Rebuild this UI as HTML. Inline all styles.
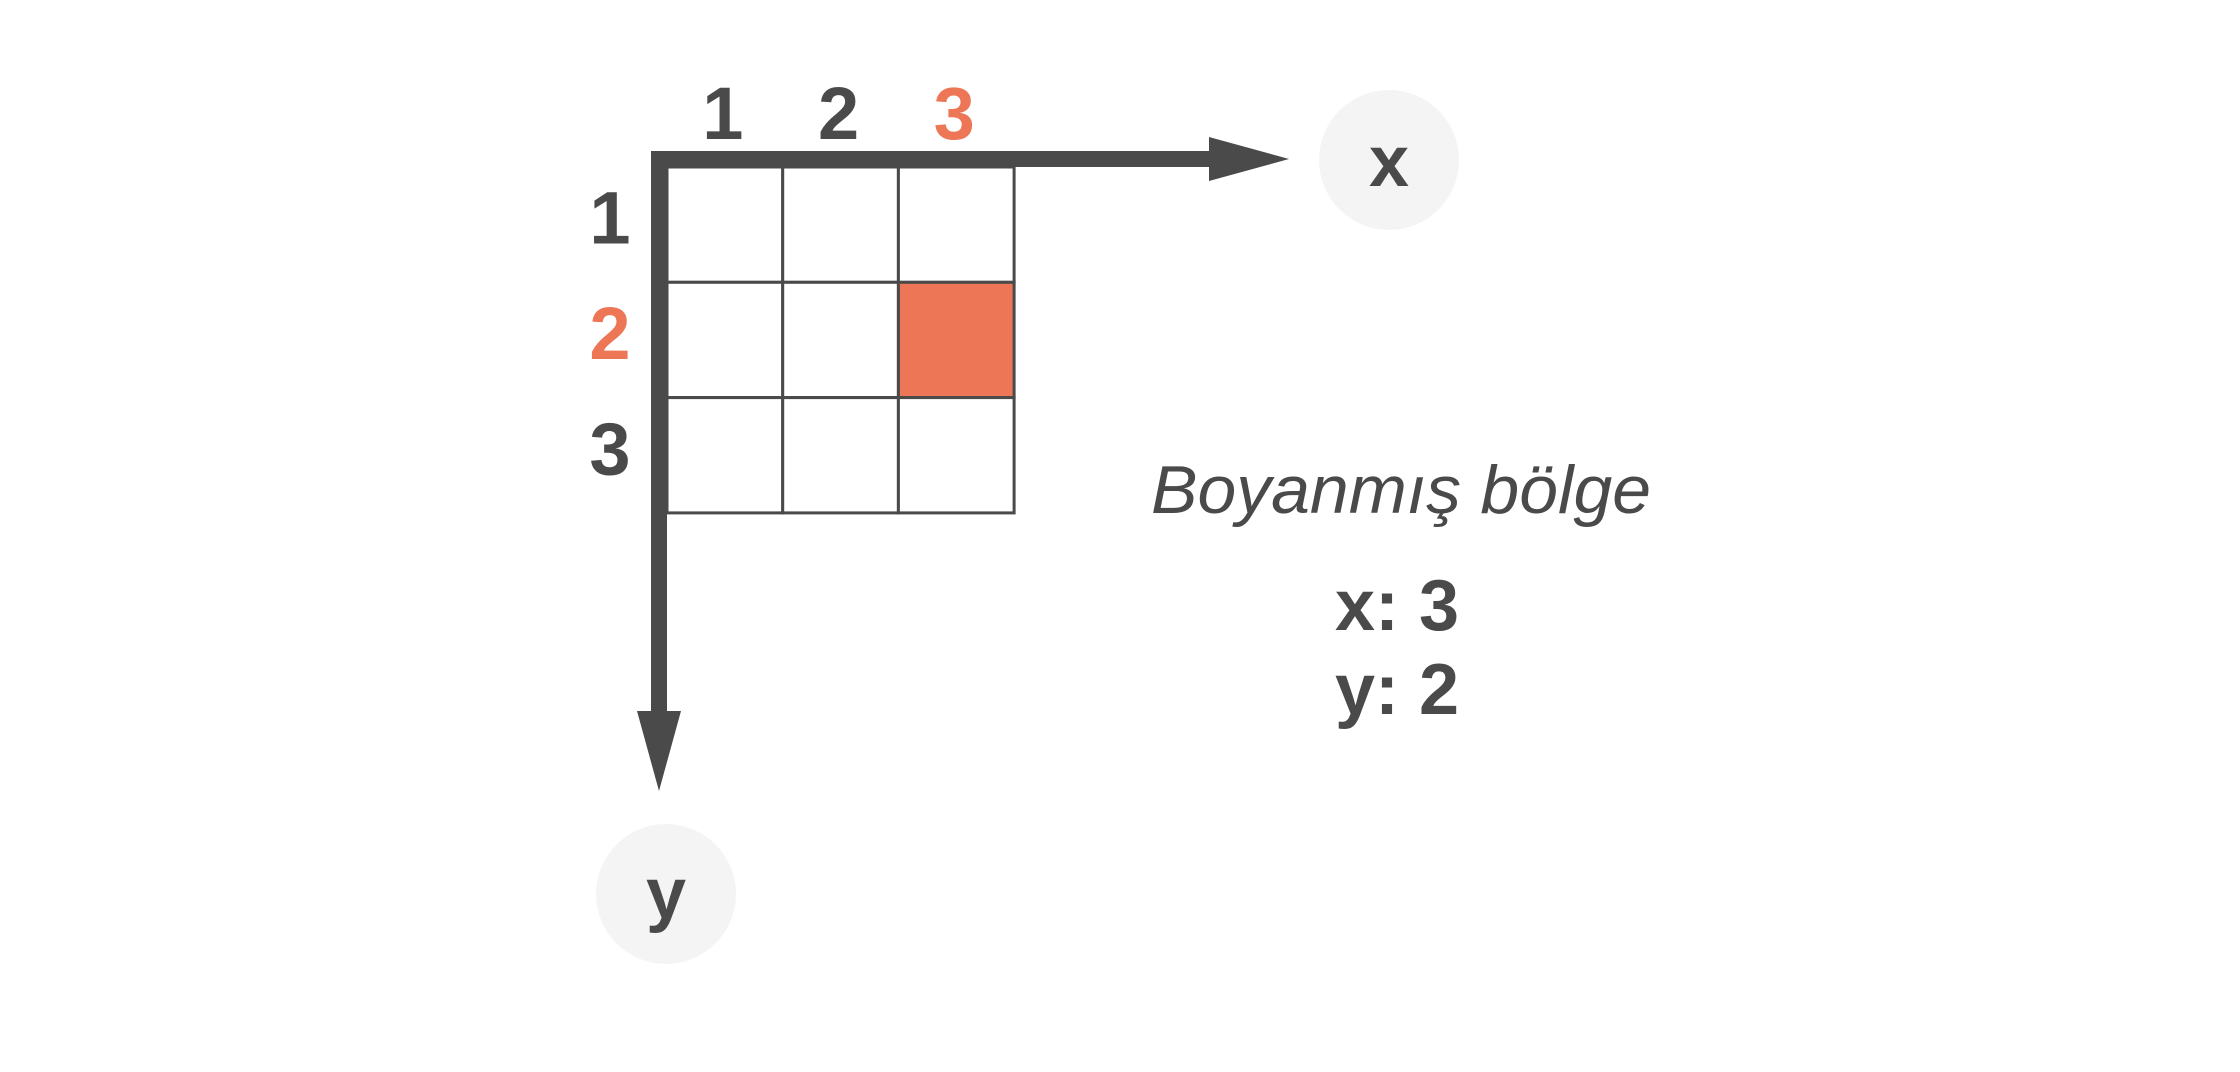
<!DOCTYPE html>
<html><head><meta charset="utf-8"><style>
html,body{margin:0;padding:0;background:#fff;}
svg{display:block;}
text{font-family:"Liberation Sans",sans-serif;}
</style></head><body>
<svg id="chart" width="2240" height="1072" viewBox="0 0 2240 1072">
  <g id="grid"></g>
  <g id="axes">
    <rect x="651" y="151" width="560" height="16" fill="#4a4a4a"/>
    <polygon points="1209,137 1289,159 1209,181" fill="#4a4a4a"/>
    <rect x="651" y="151" width="16" height="562" fill="#4a4a4a"/>
    <polygon points="637,711 681,711 659,791" fill="#4a4a4a"/>
  </g>
  <g id="labels"></g>
  <circle cx="1389" cy="160" r="70" fill="#f4f4f4"/>
  <text x="1389" y="186" font-size="72" font-weight="bold" fill="#4a4a4a" text-anchor="middle">x</text>
  <circle cx="666" cy="894" r="70" fill="#f4f4f4"/>
  <text x="666" y="918" font-size="72" font-weight="bold" fill="#4a4a4a" text-anchor="middle">y</text>
  <text x="1151" y="513" font-size="68" font-style="italic" fill="#4a4a4a" textLength="500" lengthAdjust="spacingAndGlyphs">Boyanmış bölge</text>
  <text id="xval" x="1397" y="630" font-size="72" font-weight="bold" fill="#4a4a4a" text-anchor="middle"></text>
  <text id="yval" x="1397" y="714" font-size="72" font-weight="bold" fill="#4a4a4a" text-anchor="middle"></text>
</svg>
<script>
const columns = [1, 2, 3];
const rows = [1, 2, 3];
const painted = [3, 2];
const NS = "http://www.w3.org/2000/svg";
const x0 = 667, y0 = 167, cw = 115.7, ch = 115.3;
function xs(c){ return x0 + (c - 1) * cw; }
function ys(r){ return y0 + (r - 1) * ch; }
const grid = document.getElementById('grid');
const labels = document.getElementById('labels');
rows.forEach(r => {
  columns.forEach(c => {
    const rect = document.createElementNS(NS, 'rect');
    rect.setAttribute('x', xs(c));
    rect.setAttribute('y', ys(r));
    rect.setAttribute('width', cw);
    rect.setAttribute('height', ch);
    const on = (c === painted[0] && r === painted[1]);
    rect.setAttribute('fill', on ? '#ec7655' : '#fff');
    rect.setAttribute('stroke', '#4a4a4a');
    rect.setAttribute('stroke-width', '3');
    
    
    grid.appendChild(rect);
  });
});
columns.forEach(c => {
  const t = document.createElementNS(NS, 'text');
  t.setAttribute('x', xs(c) + cw / 2 - 2);
  t.setAttribute('y', 139);
  t.setAttribute('font-size', '74');
  t.setAttribute('font-weight', 'bold');
  t.setAttribute('text-anchor', 'middle');
  t.setAttribute('fill', c === painted[0] ? '#ec7655' : '#4a4a4a');
  t.textContent = c;
  
  
  labels.appendChild(t);
});
rows.forEach(r => {
  const t = document.createElementNS(NS, 'text');
  t.setAttribute('x', 610);
  t.setAttribute('y', ys(r) + ch / 2 + 19);
  t.setAttribute('font-size', '74');
  t.setAttribute('font-weight', 'bold');
  t.setAttribute('text-anchor', 'middle');
  t.setAttribute('fill', r === painted[1] ? '#ec7655' : '#4a4a4a');
  t.textContent = r;
  
  
  labels.appendChild(t);
});
document.getElementById('xval').textContent = 'x: ' + painted[0];
document.getElementById('yval').textContent = 'y: ' + painted[1];
</script>
</body></html>
